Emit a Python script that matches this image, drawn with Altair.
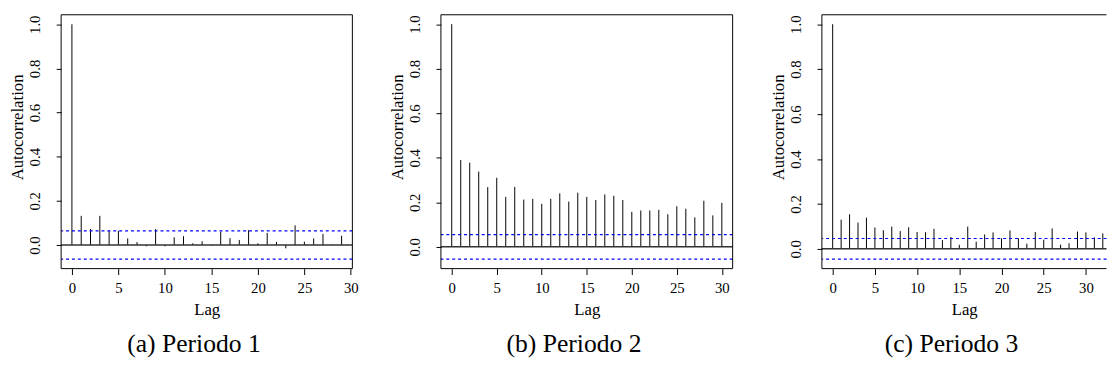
import altair as alt
import pandas as pd

# ---- data ----
lags1 = list(range(30))
acf1 = [1.0, 0.132, 0.072, 0.132, 0.064, 0.064, 0.030, 0.013, -0.006, 0.072,
        -0.006, 0.035, 0.040, 0.008, 0.017, -0.003, 0.060, 0.031, 0.023, 0.067,
        0.008, 0.055, 0.014, -0.015, 0.089, 0.015, 0.030, 0.050, 0.002, 0.042]
ci1 = 0.064

lags2 = list(range(31))
acf2 = [1.0, 0.390, 0.378, 0.338, 0.268, 0.310, 0.224, 0.269, 0.212, 0.215,
        0.193, 0.216, 0.240, 0.203, 0.243, 0.224, 0.210, 0.235, 0.229, 0.210,
        0.157, 0.163, 0.163, 0.166, 0.146, 0.182, 0.171, 0.132, 0.207, 0.141,
        0.197]
ci2 = 0.055

lags3 = list(range(33))
acf3 = [1.0, 0.130, 0.154, 0.117, 0.139, 0.095, 0.083, 0.099, 0.079, 0.096,
        0.075, 0.074, 0.089, 0.039, 0.053, 0.018, 0.099, 0.032, 0.064, 0.073,
        0.047, 0.082, 0.047, 0.023, 0.075, 0.041, 0.091, 0.019, 0.025, 0.077,
        0.073, 0.051, 0.069]
ci3 = 0.046

captions = ["(a) Periodo 1", "(b) Periodo 2", "(c) Periodo 3"]
x_ticks = [0, 5, 10, 15, 20, 25, 30]
y_ticks = [0.0, 0.2, 0.4, 0.6, 0.8, 1.0]

x_domains = [[-1.16, 30.16], [-1.2, 31.2], [-1.28, 32.44]]
y_domains = [[-0.107, 1.043], [-0.098, 1.042], [-0.088, 1.042]]
widths = [296, 296.5, 289.3]
H = 258
SERIF = "Liberation Serif"


def panel(lags, acf, ci, xdom, ydom, W, caption, right_border=True):
    df = pd.DataFrame({"lag": lags, "acf": acf, "base": [0.0] * len(lags)})
    one = pd.DataFrame({"k": [0]})
    xs = alt.Scale(domain=xdom, nice=False, zero=False)
    ys = alt.Scale(domain=ydom, nice=False, zero=False)
    xaxis = alt.Axis(values=x_ticks, title="Lag", domain=False, grid=False,
                     tickSize=6, tickColor="black", labelFont=SERIF,
                     labelFontSize=15, labelPadding=6, labelColor="black",
                     labelFlush=False, labelOverlap=False, titleFont=SERIF,
                     titleFontSize=17, titleFontWeight="normal",
                     titleBaseline="alphabetic", titleY=47, titleColor="black")
    yaxis = alt.Axis(values=y_ticks, format=".1f", title="Autocorrelation",
                     domain=False, grid=False, tickSize=5, tickColor="black",
                     labelAngle=270, labelAlign="center", labelBaseline="middle",
                     labelPadding=22, labelFont=SERIF, labelFontSize=15,
                     labelColor="black", labelFlush=False, labelOverlap=False,
                     titleAngle=270, titleX=-44, titleY=114, titleAlign="center",
                     titleBaseline="middle", titleFont=SERIF, titleFontSize=17,
                     titleFontWeight="normal", titleColor="black")
    bars = alt.Chart(df).mark_rule(color="black", strokeWidth=1).encode(
        x=alt.X("lag:Q", scale=xs, axis=xaxis),
        y=alt.Y("acf:Q", scale=ys, axis=yaxis),
        y2="base:Q",
    )
    zero = alt.Chart(one).mark_rule(color="#333", strokeWidth=1.5).encode(y=alt.datum(0))
    up = alt.Chart(one).mark_rule(color="#0000ff", strokeWidth=1.2, strokeDash=[3, 3]).encode(y=alt.datum(ci))
    lo = alt.Chart(one).mark_rule(color="#0000ff", strokeWidth=1.2, strokeDash=[3, 3]).encode(y=alt.datum(-ci))
    top = alt.Chart(one).mark_rule(color="black", strokeWidth=1).encode(
        x=alt.value(0), x2=alt.value(W), y=alt.value(0))
    bot = alt.Chart(one).mark_rule(color="black", strokeWidth=1).encode(
        x=alt.value(0), x2=alt.value(W), y=alt.value(H))
    left = alt.Chart(one).mark_rule(color="black", strokeWidth=1).encode(
        x=alt.value(0), y=alt.value(0), y2=alt.value(H))
    layers = [bars, zero, up, lo, top, bot, left]
    if right_border:
        right = alt.Chart(one).mark_rule(color="black", strokeWidth=1).encode(
            x=alt.value(W), y=alt.value(0), y2=alt.value(H))
        layers.append(right)
    return alt.layer(*layers).properties(
        width=W, height=H,
        title=alt.TitleParams(text=caption, orient="bottom", anchor="middle",
                              frame="group", font=SERIF, fontSize=26,
                              fontWeight="normal", color="black", dx=-13,
                              offset=14),
    )


p1 = panel(lags1, acf1, ci1, x_domains[0], y_domains[0], widths[0], captions[0])
p2 = panel(lags2, acf2, ci2, x_domains[1], y_domains[1], widths[1], captions[1])
p3 = panel(lags3, acf3, ci3, x_domains[2], y_domains[2], widths[2], captions[2],
           right_border=False)

chart = alt.hconcat(alt.hconcat(p1, p2, spacing=29), p3, spacing=35.2).properties(
    padding={"left": 0, "top": 3, "right": 0, "bottom": 0},
    background="white",
).configure_view(stroke="transparent")

chart.save("out.html", embed_options={"renderer": "svg", "actions": False})
